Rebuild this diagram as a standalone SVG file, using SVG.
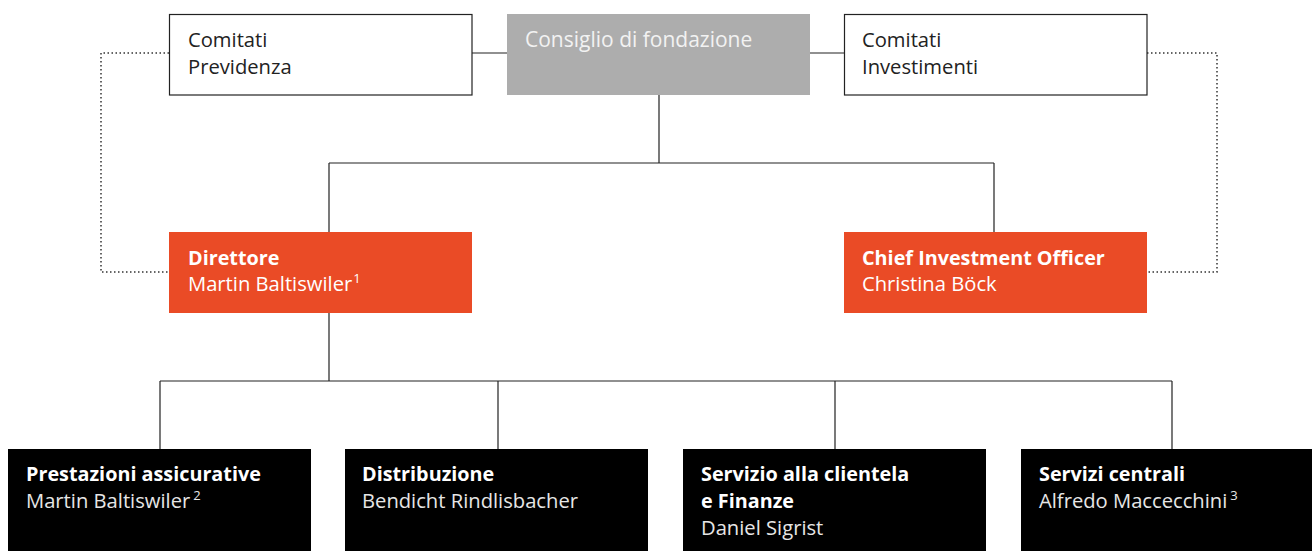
<svg xmlns="http://www.w3.org/2000/svg" width="1312" height="551" viewBox="0 0 1312 551">
<style>
text{font-family:"Open Sans","Noto Sans","Liberation Sans",sans-serif;font-size:20.2px}
.b{font-weight:bold;font-size:19.8px}
.line{stroke:#222;stroke-width:1.2;fill:none}
.dot{stroke:#333;stroke-width:1.5;fill:none;stroke-dasharray:1.5 2.5}
.wbox{fill:#fff;stroke:#222;stroke-width:1.2}
.grey{fill:#adadad}
.orange{fill:#ea4b26}
.black{fill:#000}
.dk{fill:#222}
.wt{fill:#fff}
.lt{fill:#e6e6e6}
.sup{font-size:13px}
</style>
<rect width="1312" height="551" fill="#fff"/>
<g id="connectors">
<line class="line" x1="472" y1="53" x2="507" y2="53"/>
<line class="line" x1="810" y1="53" x2="844" y2="53"/>
<path class="line" d="M659 95V163M329 163H994M329 163V232M994 163V232"/>
<path class="line" d="M329 313V381M160 381H1172M160 381V449M498 381V449M835 381V449M1172 381V449"/>
<path class="dot" d="M169 53H101V272H169"/>
<path class="dot" d="M1147 53H1217V272H1147"/>
</g>
<g id="comitati-previdenza">
<rect class="wbox" x="169.5" y="14.5" width="302.5" height="80.5"/>
<text class="dk" x="188" y="47">Comitati</text>
<text class="dk" x="188" y="74">Previdenza</text>
</g>
<g id="consiglio">
<rect class="grey" x="507" y="14" width="303" height="81"/>
<text fill="#f2f2f2" x="525" y="47" style="font-size:21px">Consiglio di fondazione</text>
</g>
<g id="comitati-investimenti">
<rect class="wbox" x="844.5" y="14.5" width="302.5" height="80.5"/>
<text class="dk" x="862" y="47">Comitati</text>
<text class="dk" x="862" y="74">Investimenti</text>
</g>
<g id="direttore">
<rect class="orange" x="169" y="232" width="303" height="81"/>
<text class="wt b" x="188" y="265">Direttore</text>
<text class="wt" x="188" y="291">Martin Baltiswiler<tspan class="sup" dx="1" dy="-8">1</tspan></text>
</g>
<g id="cio">
<rect class="orange" x="844" y="232" width="303" height="81"/>
<text class="wt b" x="862" y="265">Chief Investment Officer</text>
<text class="wt" x="862" y="291">Christina Böck</text>
</g>
<g id="prestazioni">
<rect class="black" x="8" y="449" width="303" height="110"/>
<text class="wt b" x="26" y="481">Prestazioni assicurative</text>
<text class="lt" x="26" y="508">Martin Baltiswiler<tspan class="sup" dx="3" dy="-8">2</tspan></text>
</g>
<g id="distribuzione">
<rect class="black" x="345" y="449" width="303" height="110"/>
<text class="wt b" x="362" y="481">Distribuzione</text>
<text class="lt" x="362" y="508">Bendicht Rindlisbacher</text>
</g>
<g id="servizio">
<rect class="black" x="683" y="449" width="303" height="110"/>
<text class="wt b" x="701" y="481">Servizio alla clientela</text>
<text class="wt b" x="701" y="508">e Finanze</text>
<text class="lt" x="701" y="535">Daniel Sigrist</text>
</g>
<g id="servizi-centrali">
<rect class="black" x="1021" y="449" width="303" height="110"/>
<text class="wt b" x="1039" y="481">Servizi centrali</text>
<text class="lt" x="1039" y="508">Alfredo Maccecchini<tspan class="sup" dx="3" dy="-8">3</tspan></text>
</g>
</svg>
